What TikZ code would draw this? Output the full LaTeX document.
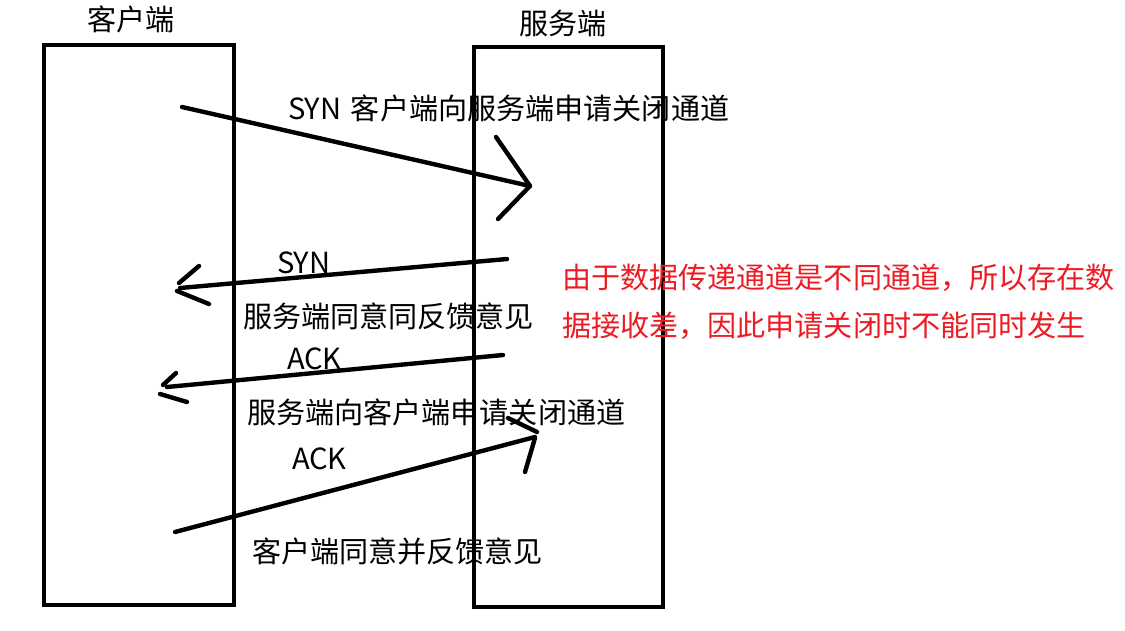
\documentclass[tikz,border=0pt]{standalone}
\usepackage{fontspec}
\setmainfont{Noto Sans CJK SC}
\definecolor{notered}{RGB}{237,28,36}
\begin{document}
\begin{tikzpicture}[x=1pt,y=-1pt,
  box/.style={draw=black,line width=4.5pt,minimum width=#1,inner sep=0pt,outer sep=0pt},
  stroke/.style={draw=black,line width=4.4pt,line cap=round,line join=round},
  lbl/.style={inner sep=0pt,outer sep=0pt,font=\fontsize{29.1}{48}\selectfont,text=black},
  note/.style={inner sep=0pt,outer sep=0pt,font=\fontsize{29.1}{48}\selectfont,text=notered,align=left}]
\useasboundingbox[fill=white] (0,0) rectangle (1125,630);
% boxes
\node[box=190pt,minimum height=560pt] (client) at (139,325) {};
\node[box=189pt,minimum height=560pt] (server) at (568.5,327) {};
% titles
\node[lbl] (clientt) at (131,19) {客户端};
\node[lbl] (servert) at (563,23) {服务端};
% endpoints
\coordinate (a1s) at (182,107);
\coordinate (a1e) at (530,186);
\coordinate (a1u) at (496,137);
\coordinate (a1l) at (498,219);
\coordinate (a2s) at (507,259);
\coordinate (a2e) at (180,288);
\coordinate (h2a) at (199,266);
\coordinate (h2b) at (179,283);
\coordinate (h2c) at (177,291);
\coordinate (h2d) at (209,304);
\coordinate (a3s) at (503,355);
\coordinate (a3e) at (167,387);
\coordinate (h3a) at (176,373);
\coordinate (h3b) at (163,385);
\coordinate (h3c) at (160,394);
\coordinate (h3d) at (187,402);
\coordinate (a4s) at (175,532);
\coordinate (a4e) at (535,437);
\coordinate (h4a) at (508,418);
\coordinate (h4b) at (537,432);
\coordinate (h4c) at (535,438);
\coordinate (h4d) at (525,472);
% arrows
\draw[stroke] (a1s) -- (a1e);
\draw[stroke] (a1u) -- (a1e) -- (a1l);
\draw[stroke] (a2s) -- (a2e);
\draw[stroke] (h2a) -- (h2b);
\draw[stroke] (h2c) -- (h2d);
\draw[stroke] (a3s) -- (a3e);
\draw[stroke] (h3a) -- (h3b);
\draw[stroke] (h3c) -- (h3d);
\draw[stroke] (a4s) -- (a4e);
\draw[stroke] (h4a) -- (h4b);
\draw[stroke] (h4c) -- (h4d);
% labels
\node[lbl,anchor=west] (l1) at (288,108) {SYN\hspace{3pt} 客户端向服务端申请关闭通道};
\node[lbl,anchor=west] (l2) at (277,263) {SYN};
\node[lbl,anchor=west] (l3) at (243,316) {服务端同意同反馈意见};
\node[lbl,anchor=west] (l4) at (287,359) {ACK};
\node[lbl,anchor=west] (l5) at (247,412) {服务端向客户端申请关闭通道};
\node[lbl,anchor=west] (l6) at (292,459) {ACK};
\node[lbl,anchor=west] (l7) at (252,551) {客户端同意并反馈意见};
\node[note,anchor=north west] (n1) at (562,264) {由于数据传递通道是不同通道，所以存在数\\据接收差，因此申请关闭时不能同时发生};
\end{tikzpicture}
\end{document}
